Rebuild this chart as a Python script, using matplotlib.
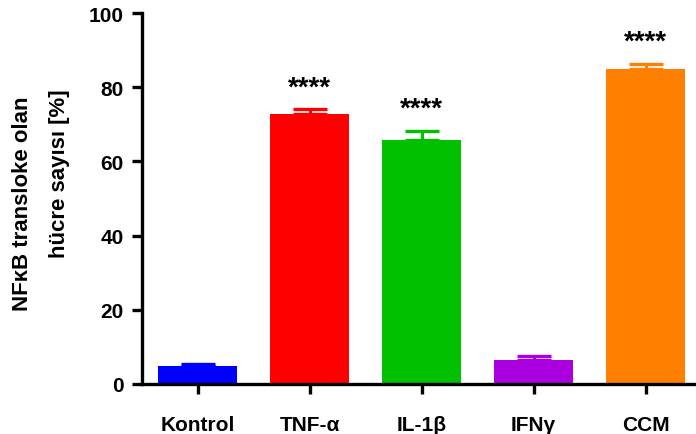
import matplotlib
matplotlib.use("Agg")
import matplotlib.pyplot as plt
import numpy as np

categories = ["Kontrol", "TNF-α", "IL-1β", "IFNγ", "CCM"]
values = [4.9, 72.8, 65.8, 6.5, 85.0]
errors = [0.4, 1.2, 2.4, 1.0, 1.3]
colors = ["#0000FF", "#FF0000", "#00C000", "#AA00E0", "#FF8000"]
stars = ["", "****", "****", "", "****"]
yticks = [0, 20, 40, 60, 80, 100]

plt.rcParams['font.family'] = ['Liberation Sans', 'DejaVu Sans']
plt.rcParams['font.weight'] = 'bold'

fig = plt.figure(figsize=(6.96, 4.35), dpi=100)
ax = fig.add_axes([141.5/696, 1 - 385/435, 1 - 141.5/696, (385 - 14)/435])

x = np.arange(len(categories))
ax.bar(x, values, width=0.71, color=colors, edgecolor='none', zorder=2)
for xi, v, e, c in zip(x, values, errors, colors):
    ax.errorbar(xi, v, yerr=[[0], [e]], fmt='none', ecolor=c, elinewidth=2.2,
                capsize=12, capthick=2.4, zorder=1)
for xi, v, e, s in zip(x, values, errors, stars):
    if s:
        ax.text(xi, v + e + 5.9, s, ha='center', va='center', fontsize=20,
                fontweight='bold', color='black')

ax.set_xlim(-0.5, 4.45)
ax.set_ylim(0, 100)
ax.set_yticks(yticks)
ax.set_yticklabels([str(t) for t in yticks], fontsize=15, fontweight='bold')
ax.set_xticks(x)
ax.set_xticklabels(categories, fontsize=15, fontweight='bold')
for sp in ['top', 'right']:
    ax.spines[sp].set_visible(False)
for sp in ['left', 'bottom']:
    ax.spines[sp].set_linewidth(2.4)
ax.tick_params(axis='y', length=7, width=2.4, pad=6)
ax.tick_params(axis='x', length=7, width=2.4, pad=15)

fig.text(23/696, 1 - 204/435, "NFκB transloke olan", rotation=90, ha='center', va='center',
         fontsize=16, fontweight='bold')
fig.text(60/696, 1 - 174/435, "hücre sayısı [%]", rotation=90, ha='center', va='center',
         fontsize=16, fontweight='bold')

fig.savefig("out.png", dpi=100)
